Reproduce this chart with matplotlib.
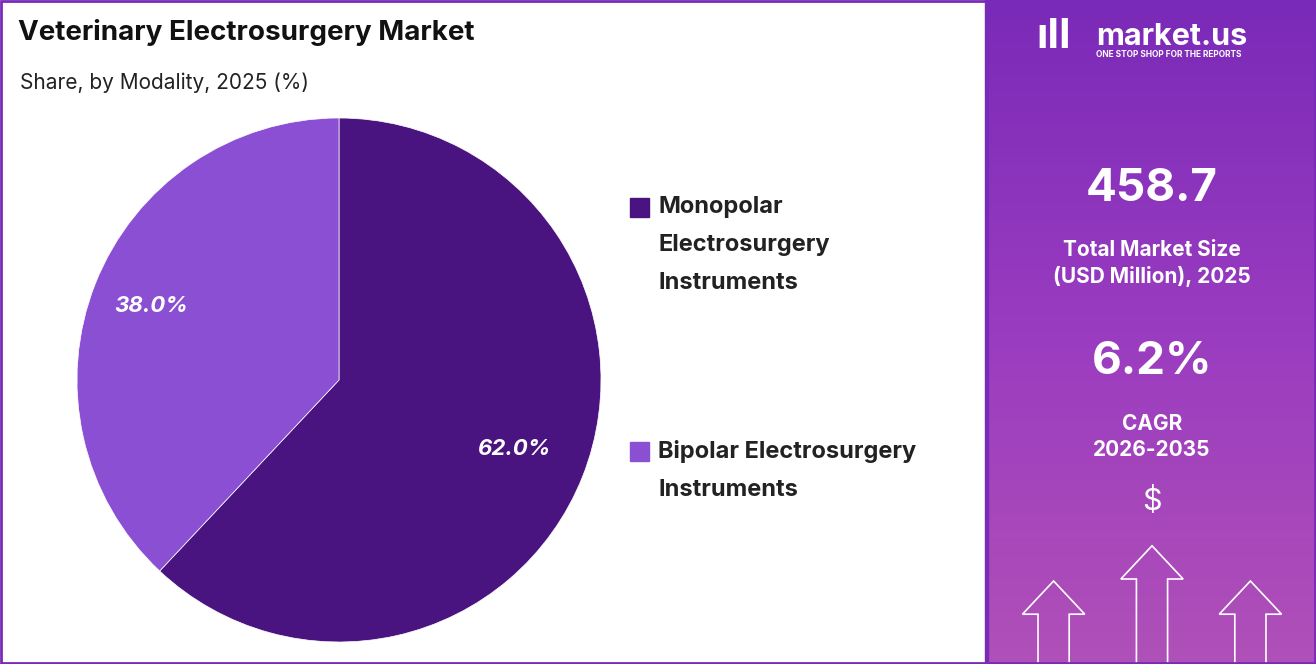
import matplotlib.pyplot as plt
import numpy as np
from matplotlib.patches import Rectangle, Polygon
from matplotlib.colors import LinearSegmentedColormap

plt.rcParams['font.family'] = ['Inter', 'DejaVu Sans']

segments = ['Monopolar\nElectrosurgery\nInstruments', 'Bipolar Electrosurgery\nInstruments']
shares = [62.0, 38.0]
colors = ['#4A1480', '#8A4FD2']
market_size = '458.7'
cagr = '6.2%'

fig = plt.figure(figsize=(13.16, 6.64), dpi=100)

# right panel gradient background
bg = fig.add_axes([988 / 1316, 0, 328 / 1316, 1])
grad = np.linspace(0, 1, 256).reshape(-1, 1)
cmap = LinearSegmentedColormap.from_list('p', ['#7A2AB8', '#9A3CC0', '#B050B8'])
bg.imshow(grad, aspect='auto', cmap=cmap, extent=[0, 1, 0, 1])
bg.set_xlim(0, 1)
bg.set_ylim(0, 1)
bg.axis('off')

bg.text(0.33, 0.945, 'market.us', color='white', fontsize=22, fontweight='bold', ha='left', va='center')
bg.text(0.33, 0.918, 'ONE STOP SHOP FOR THE REPORTS', color='white', fontsize=6, fontweight='bold', ha='left', va='center')
bg.text(0.2, 0.945, 'ıIl', color='white', fontsize=30, fontweight='bold', ha='center', va='center')
bg.text(0.5, 0.715, market_size, color='white', fontsize=33, fontweight='bold', ha='center', va='center')
bg.text(0.5, 0.603, 'Total Market Size\n(USD Million), 2025', color='white', fontsize=15, fontweight='bold',
        ha='center', va='center', linespacing=1.35)
bg.text(0.5, 0.455, cagr, color='white', fontsize=33, fontweight='bold', ha='center', va='center')
bg.text(0.5, 0.342, 'CAGR\n2026-2035', color='white', fontsize=15, fontweight='bold',
        ha='center', va='center', linespacing=1.35)
bg.text(0.5, 0.245, '$', color='white', fontsize=22, ha='center', va='center')


def arrow(cx, base, top, w):
    sw = w * 0.25
    pts = [(cx - sw, base), (cx - sw, top - 0.05), (cx - w / 2, top - 0.05), (cx, top),
           (cx + w / 2, top - 0.05), (cx + sw, top - 0.05), (cx + sw, base)]
    bg.add_patch(Polygon(pts, closed=False, fill=False, edgecolor='white', lw=1.2))


arrow(0.2, 0.0, 0.125, 0.19)
arrow(0.5, 0.0, 0.178, 0.19)
arrow(0.8, 0.0, 0.125, 0.19)

# titles
fig.text(18 / 1316, 1 - 33 / 664, 'Veterinary Electrosurgery Market', fontsize=20, fontweight='bold',
         color='#111111', va='center')
fig.text(20 / 1316, 1 - 83 / 664, 'Share, by Modality, 2025 (%)', fontsize=15, color='#222222', va='center')

# pie
ax = fig.add_axes([(339 - 262) / 1316, (664 - 380 - 262) / 664, 524 / 1316, 524 / 664])
wedges, _ = ax.pie(shares, colors=colors, startangle=90, counterclock=False,
                   wedgeprops=dict(edgecolor='white', linewidth=0.5))
ax.set_xlim(-1, 1)
ax.set_ylim(-1, 1)
ax.set_aspect('equal')
for w, s, r in zip(wedges, shares, [0.72, 0.77]):
    ang = np.deg2rad((w.theta1 + w.theta2) / 2)
    ax.text(r * np.cos(ang), r * np.sin(ang), f'{s:.1f}%', color='white', fontsize=16,
            fontweight='bold', style='italic', ha='center', va='center')

# legend
for y, lab, c in [(208, segments[0], colors[0]), (452, segments[1], colors[1])]:
    fig.patches.append(Rectangle((630 / 1316, 1 - (y + 9) / 664), 19 / 1316, 19 / 664,
                                 transform=fig.transFigure, color=c, figure=fig))
    fig.text(658 / 1316, 1 - (y - 12) / 664, lab, fontsize=17, fontweight='bold', color='#222222',
             va='top', linespacing=1.95)

# borders
fig.patches.append(Rectangle((0.001, 0.001), 0.998, 0.997, transform=fig.transFigure, fill=False,
                             edgecolor='#7A2AB8', lw=2, figure=fig))
fig.patches.append(Rectangle((985 / 1316, 0), 3 / 1316, 1, transform=fig.transFigure,
                             color='#7A2AB8', figure=fig))

fig.savefig('out.png', dpi=100)
